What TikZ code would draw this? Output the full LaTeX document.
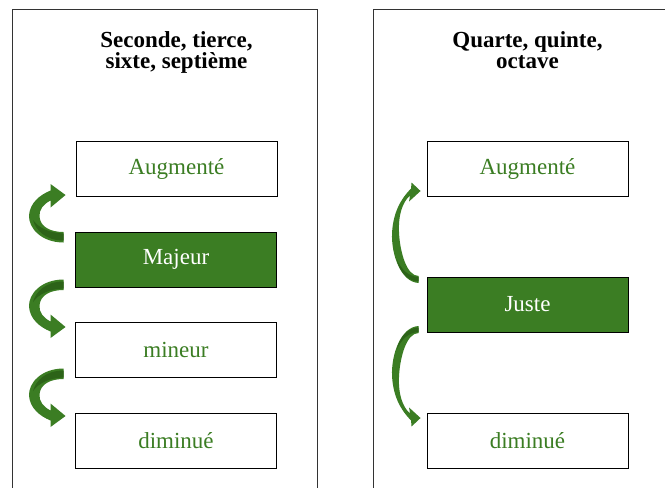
\documentclass[tikz,border=0pt]{standalone}
\usepackage{fontspec}
\setmainfont{Liberation Serif}
\usetikzlibrary{calc,shadows}
\definecolor{grn}{HTML}{3B7D23}
\definecolor{grndark}{HTML}{2C6318}
\tikzset{
  bigarrow/.pic={
    \fill[grn] (0,5.5) .. controls (-22,5.5) and (-35.5,-9) .. (-34.5,-22)
      .. controls (-33.5,-34) and (-24,-42) .. (-13,-46.5) -- (-13,-53) -- (2,-42)
      -- (-13,-29.5) -- (-13,-36.5) .. controls (-20,-33) and (-25,-27) .. (-24,-20)
      .. controls (-23,-10) and (-13,-5) .. (0,-5) -- cycle;
    \fill[grndark] (0,3.5) .. controls (-18,3.5) and (-28,-7) .. (-30.5,-17)
      .. controls (-25,-9) and (-14,-4) .. (0,-3.5) -- cycle;
  },
  thinarrow/.pic={
    \fill[grn] (0,4) .. controls (-18,3) and (-27.5,-25) .. (-26.5,-46)
      .. controls (-25.5,-66) and (-18,-80) .. (-7.5,-90.5) -- (-7,-96.5) -- (2,-88)
      -- (-9.5,-77.5) -- (-8.5,-83.5) .. controls (-16,-77) and (-20.5,-64) .. (-19.5,-46)
      .. controls (-18.5,-27) and (-12,-3) .. (0,-3) -- cycle;
    \fill[grndark] (0,2.5) .. controls (-12,2) and (-19,-8) .. (-22,-20)
      .. controls (-17,-9) and (-10,-2.5) .. (0,-2) -- cycle;
  }
}
\begin{document}
\begin{tikzpicture}[x=1pt,y=-1pt,
  lvl/.style={draw=black, line width=0.9pt, minimum width=201pt, minimum height=55pt,
    inner sep=0pt, font=\fontsize{23}{26}\selectfont, text=grn, fill=white,
    drop shadow={shadow xshift=0.8pt, shadow yshift=-0.8pt, fill=black!45, opacity=0.8}},
  lvlon/.style={lvl, fill=grn, text=white},
  panel/.style={draw=black!80, line width=0.9pt},
  ttl/.style={font=\bfseries\fontsize{23}{21.5}\selectfont, anchor=base, inner sep=0pt}
]
\useasboundingbox (0,0) rectangle (665,488);
\clip (0,0) rectangle (665,488);
\draw[panel] (12.5,9) rectangle (317.5,520);
\draw[panel] (373,9) rectangle (700,520);

\node[ttl] (t1a) at (176.5,47) {Seconde, tierce,};
\node[ttl] (t1b) at (176.5,68.5) {sixte, septième};
\node[ttl] (t2a) at (527.5,47) {Quarte, quinte,};
\node[ttl] (t2b) at (527.5,68.5) {octave};

\node[lvl]   (aug1) at (176.5,168.5) {Augmenté};
\node[lvlon] (maj)  at (176,259.5) {Majeur};
\node[lvl]   (min)  at (176,349.5) {mineur};
\node[lvl]   (dim1) at (176,440.5) {diminué};

\node[lvl]   (aug2) at (527.5,168.5) {Augmenté};
\node[lvlon] (jus)  at (527.5,304.5) {Juste};
\node[lvl]   (dim2) at (527.5,440.5) {diminué};

\pic at ($(maj.west)+(-11.5,-22.5)$) {bigarrow};
\pic[yscale=-1] at ($(maj.west)+(-11.5,25.5)$) {bigarrow};
\pic[yscale=-1] at ($(min.west)+(-11.5,24.5)$) {bigarrow};

\pic at ($(jus.west)+(-8,-25.5)$) {thinarrow};
\pic[yscale=-1] at ($(jus.west)+(-8,25.5)$) {thinarrow};
\end{tikzpicture}
\end{document}
